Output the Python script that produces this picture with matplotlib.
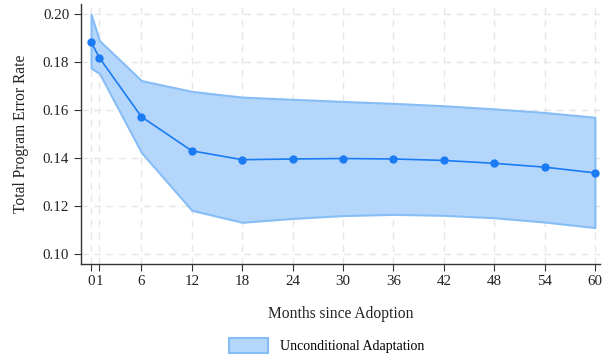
import numpy as np
import matplotlib
matplotlib.use('Agg')
import matplotlib.pyplot as plt
from matplotlib.patches import Patch

months = [0, 1, 6, 12, 18, 24, 30, 36, 42, 48, 54, 60]
error_rate = [0.1884, 0.1818, 0.1572, 0.1430, 0.1393, 0.1396, 0.1398, 0.1396, 0.1390, 0.1378, 0.1362, 0.1338]
upper_ci = [0.2000, 0.1890, 0.1723, 0.1678, 0.1654, 0.1645, 0.1636, 0.1628, 0.1618, 0.1605, 0.1590, 0.1570]
lower_ci = [0.1775, 0.1753, 0.1423, 0.1182, 0.1132, 0.1148, 0.1160, 0.1165, 0.1161, 0.1151, 0.1133, 0.1110]
xtick_labels = ['0', '1', '6', '12', '18', '24', '30', '36', '42', '48', '54', '60']
yticks = [0.10, 0.12, 0.14, 0.16, 0.18, 0.20]

plt.rcParams['font.family'] = ['Liberation Serif', 'DejaVu Serif']

fig = plt.figure(figsize=(6.07, 3.62), dpi=100)
ax = fig.add_axes([0.1334, 0.2707, 0.855, 0.718])

ax.fill_between(months, lower_ci, upper_ci, facecolor='#b5d6fb', edgecolor='#86bdf6', linewidth=1.5, zorder=2)
ax.plot(months, error_rate, color='#1a7bf2', linewidth=1.2, marker='o', markersize=5, zorder=3)

ax.set_xlim(-1.2, 60.6)
ax.set_ylim(0.0958, 0.2042)
ax.set_xticks(months)
ax.set_xticklabels(xtick_labels)
ax.set_yticks(yticks)
ax.set_yticklabels(['%.2f' % v for v in yticks])

ax.grid(True, color='#e6e6e6', linestyle=(0, (5, 4)), linewidth=1.0, zorder=0)
ax.set_axisbelow(True)
for side in ['top', 'right']:
    ax.spines[side].set_visible(False)
for side in ['left', 'bottom']:
    ax.spines[side].set_color('#333333')
    ax.spines[side].set_linewidth(1.0)
ax.tick_params(direction='out', length=5, color='#333333', labelsize=10.8, labelcolor='#222222')
ax.tick_params(axis='x', pad=3)

ax.set_xlabel('Months since Adoption', fontsize=11.2, color='#222222', labelpad=13)
ax.set_ylabel('Total Program Error Rate', fontsize=11.2, color='#222222', labelpad=10)

handle = Patch(facecolor='#b5d6fb', edgecolor='#86bdf6', linewidth=1.5)
fig.legend([handle], ['Unconditional Adaptation'], loc='lower center', bbox_to_anchor=(0.538, -0.01),
           frameon=False, fontsize=10, handlelength=2.8, handleheight=1.2, handletextpad=0.9)

fig.savefig('out.png', dpi=100)
plt.close(fig)
